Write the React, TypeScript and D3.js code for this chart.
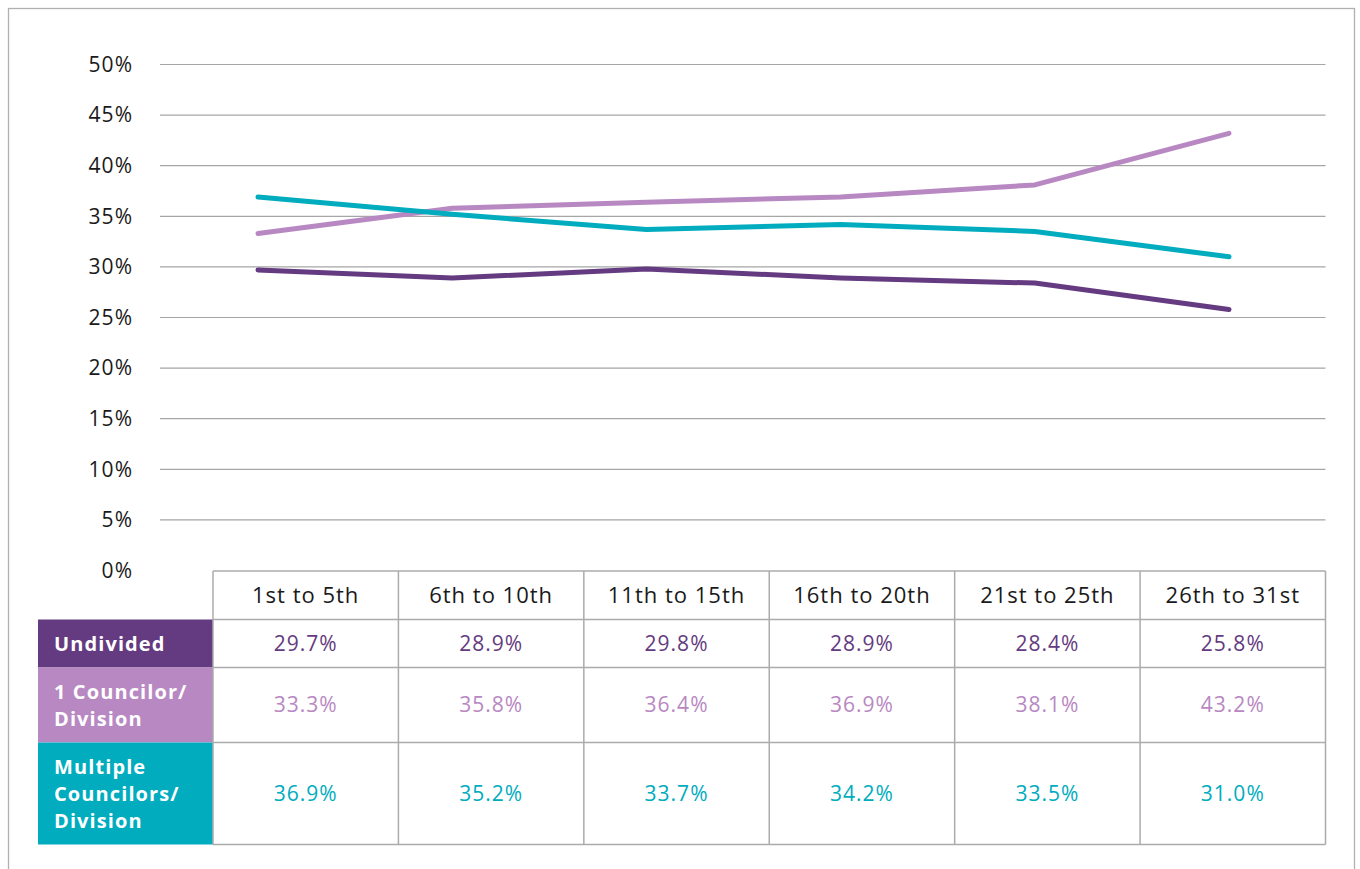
import React from "react";
import * as d3 from "d3";

const categories = ["1st to 5th", "6th to 10th", "11th to 15th", "16th to 20th", "21st to 25th", "26th to 31st"];
const seriesNames = ["Undivided", "1 Councilor/\nDivision", "Multiple\nCouncilors/\nDivision"];
const undivided = [29.7, 28.9, 29.8, 28.9, 28.4, 25.8];
const oneCouncilor = [33.3, 35.8, 36.4, 36.9, 38.1, 43.2];
const multipleCouncilors = [36.9, 35.2, 33.7, 34.2, 33.5, 31.0];
const yTicks = [0, 5, 10, 15, 20, 25, 30, 35, 40, 45, 50];
const colors = ["#643a80", "#b888c2", "#00acbe"];

const W = 1360, H = 869;
const FONT = "'Open Sans', sans-serif";

export default function App() {
  const series = [undivided, oneCouncilor, multipleCouncilors];
  const y = d3.scaleLinear().domain([0, 50]).range([570.5, 64.5]);
  const xLine = d3.scalePoint<string>().domain(categories).range([258, 1229]);
  const colX = d3.scaleBand<string>().domain(categories).range([213, 1325.5]);
  const rowEdges = [571, 619.5, 667.5, 742.5, 844.5];
  const line = d3.line<number>().x((_, i) => xLine(categories[i])!).y((d) => y(d));
  const border = "#ababab";

  return (
    <svg width={W} height={H} style={{ position: "absolute", left: 0, top: 0, fontFamily: FONT }}>
      <rect x={0} y={0} width={W} height={H} fill="#fff" />
      <rect x={8.5} y={8.5} width={1346} height={880} fill="none" stroke="#b0b0b0" strokeWidth={1.3} />
      {yTicks.map((t) => (
        <g key={t}>
          {t > 0 && <line x1={160} x2={1325.5} y1={y(t)} y2={y(t)} stroke="#a6a6a6" strokeWidth={1.2} />}
          <text x={133} y={y(t)} dy="0.35em" textAnchor="end" fontSize={21} letterSpacing={1} fill="#1a1a1a">{t}%</text>
        </g>
      ))}
      {series.map((s, i) => (
        <path key={i} d={line(s)!} fill="none" stroke={colors[i]} strokeWidth={5} strokeLinecap="round" strokeLinejoin="round" />
      ))}
      {series.map((s, i) => (
        <rect key={"bg" + i} x={38} y={rowEdges[i + 1]} width={213 - 38} height={rowEdges[i + 2] - rowEdges[i + 1]} fill={colors[i]} />
      ))}
      {seriesNames.map((n, i) => {
        const lines = n.split("\n");
        const cy = (rowEdges[i + 1] + rowEdges[i + 2]) / 2;
        const lh = 27;
        return (
          <g key={"ln" + i}>
            {lines.map((l, j) => (
              <text key={j} x={54} y={cy + (j - (lines.length - 1) / 2) * lh} dy="0.35em" fontSize={20} fontWeight={700} fill="#fff" letterSpacing={1.1}>{l}</text>
            ))}
          </g>
        );
      })}
      {rowEdges.map((ry, i) => (
        <line key={"h" + i} x1={213} x2={1325.5} y1={ry} y2={ry} stroke={border} strokeWidth={1.5} />
      ))}
      {categories.map((c) => (
        <line key={"v" + c} x1={colX(c)!} x2={colX(c)!} y1={rowEdges[0]} y2={rowEdges[4]} stroke={border} strokeWidth={1.5} />
      ))}
      <line x1={1325.5} x2={1325.5} y1={rowEdges[0]} y2={rowEdges[4]} stroke={border} strokeWidth={1.5} />
      {categories.map((c) => (
        <text key={"c" + c} x={colX(c)! + colX.bandwidth() / 2} y={(rowEdges[0] + rowEdges[1]) / 2} dy="0.35em" textAnchor="middle" fontSize={22} letterSpacing={1} fill="#1a1a1a">{c}</text>
      ))}
      {series.map((s, i) =>
        s.map((v, j) => (
          <text key={"v" + i + j} x={colX(categories[j])! + colX.bandwidth() / 2} y={(rowEdges[i + 1] + rowEdges[i + 2]) / 2} dy="0.35em" textAnchor="middle" fontSize={21} letterSpacing={1} fill={colors[i]}>
            {v.toFixed(1)}%
          </text>
        ))
      )}
    </svg>
  );
}
